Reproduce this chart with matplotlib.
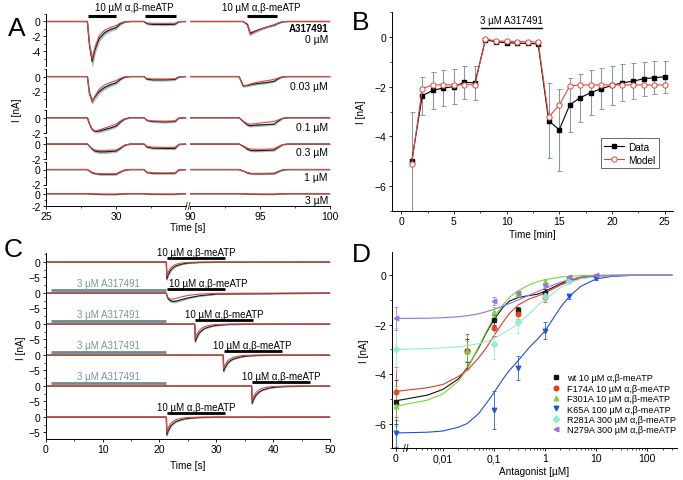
import numpy as np
import matplotlib
matplotlib.use('Agg')
import matplotlib.pyplot as plt
from matplotlib.lines import Line2D

plt.rcParams['font.family'] = ['Liberation Sans', 'DejaVu Sans']
plt.rcParams['axes.linewidth'] = 0.7
plt.rcParams['xtick.major.width'] = 0.6
plt.rcParams['ytick.major.width'] = 0.6
plt.rcParams['xtick.minor.width'] = 0.5
plt.rcParams['ytick.minor.width'] = 0.5
plt.rcParams['xtick.major.size'] = 2.5
plt.rcParams['ytick.major.size'] = 2.5
plt.rcParams['xtick.minor.size'] = 1.5
plt.rcParams['ytick.minor.size'] = 1.5
plt.rcParams['xtick.major.pad'] = 1.2
plt.rcParams['ytick.major.pad'] = 1.5
plt.rcParams['xtick.labelsize'] = 7.5
plt.rcParams['ytick.labelsize'] = 7.5

RED = '#e4473b'
BAND = '#9fc3c3'
GREYBAR = '#6f8b8b'
LABFS = 7.2
ANNFS = 7

# ---------------- data ----------------
# A: current traces (mean, SEM, model), left segment (25-35 s) and right segment (90-100 s)
a_conc = ['0 µM', '0.03 µM', '0.1 µM', '0.3 µM', '1 µM', '3 µM']
a_t_left = [25, 27.95, 28.1, 28.3, 28.5, 28.8, 29.2, 29.6, 30.0, 30.3, 30.6, 31.0,
            32.0, 32.2, 32.6, 33.5, 34.2, 34.5, 35]
a_data_left = [
    [0, 0, -3.2, -5.4, -3.8, -2.3, -1.5, -1.1, -0.85, -0.35, -0.08, 0, 0, -0.3, -0.4, -0.42, -0.38, -0.03, 0],
    [0, 0, -2.2, -3.3, -2.7, -2.0, -1.45, -1.1, -0.85, -0.4, -0.1, 0, 0, -0.35, -0.45, -0.45, -0.4, -0.05, 0],
    [0, 0, -0.8, -1.55, -1.8, -1.75, -1.55, -1.35, -1.1, -0.6, -0.2, 0, 0, -0.35, -0.5, -0.55, -0.5, -0.05, 0],
    [0, 0, -0.3, -0.7, -0.95, -1.05, -1.05, -1.0, -0.95, -0.6, -0.2, 0, 0, -0.4, -0.55, -0.6, -0.6, -0.05, 0],
    [0, 0, -0.2, -0.45, -0.55, -0.62, -0.65, -0.65, -0.63, -0.35, -0.1, 0, 0, -0.4, -0.5, -0.52, -0.5, -0.05, 0],
    [0, 0, -0.03, -0.06, -0.08, -0.1, -0.12, -0.12, -0.12, -0.06, -0.02, 0, 0, -0.06, -0.09, -0.1, -0.1, -0.02, 0],
]
a_sem_left = [
    [0, 0, 0.3, 0.6, 0.4, 0.3, 0.25, 0.2, 0.18, 0.1, 0.05, 0, 0, 0.08, 0.1, 0.1, 0.1, 0.02, 0],
    [0, 0, 0.2, 0.3, 0.3, 0.25, 0.2, 0.18, 0.15, 0.08, 0.03, 0, 0, 0.08, 0.1, 0.1, 0.1, 0.02, 0],
    [0, 0, 0.08, 0.12, 0.15, 0.15, 0.15, 0.14, 0.12, 0.08, 0.03, 0, 0, 0.08, 0.1, 0.1, 0.1, 0.02, 0],
    [0, 0, 0.05, 0.1, 0.15, 0.15, 0.15, 0.14, 0.12, 0.08, 0.03, 0, 0, 0.08, 0.1, 0.1, 0.1, 0.02, 0],
    [0, 0, 0.03, 0.06, 0.07, 0.08, 0.08, 0.08, 0.08, 0.05, 0.02, 0, 0, 0.06, 0.07, 0.07, 0.07, 0.01, 0],
    [0, 0, 0.01, 0.02, 0.02, 0.03, 0.03, 0.03, 0.03, 0.02, 0.01, 0, 0, 0.02, 0.02, 0.02, 0.02, 0.01, 0],
]
a_model_left = [
    [0, 0, -3.0, -5.0, -3.4, -1.9, -1.15, -0.8, -0.55, -0.22, -0.04, 0, 0, -0.2, -0.25, -0.27, -0.25, -0.02, 0],
    [0, 0, -2.3, -3.45, -2.6, -1.7, -1.1, -0.8, -0.55, -0.25, -0.05, 0, 0, -0.25, -0.32, -0.33, -0.3, -0.03, 0],
    [0, 0, -0.8, -1.5, -1.75, -1.6, -1.35, -1.1, -0.85, -0.45, -0.15, 0, 0, -0.3, -0.42, -0.45, -0.42, -0.04, 0],
    [0, 0, -0.3, -0.6, -0.8, -0.85, -0.85, -0.82, -0.8, -0.5, -0.15, 0, 0, -0.3, -0.42, -0.45, -0.45, -0.04, 0],
    [0, 0, -0.15, -0.38, -0.5, -0.55, -0.58, -0.58, -0.57, -0.3, -0.08, 0, 0, -0.35, -0.45, -0.47, -0.45, -0.04, 0],
    [0, 0, -0.02, -0.04, -0.05, -0.06, -0.07, -0.07, -0.07, -0.04, -0.01, 0, 0, -0.04, -0.06, -0.07, -0.07, -0.01, 0],
]
a_t_right = [90, 93.5, 93.8, 94.1, 94.3, 94.6, 95.0, 95.5, 96.0, 96.3, 96.6, 97, 100]
a_data_right = [
    [0, 0, 0, -0.4, -1.6, -1.35, -1.05, -0.75, -0.5, -0.25, -0.05, 0, 0],
    [0, 0, -1.25, -1.2, -1.1, -1.0, -0.9, -0.8, -0.65, -0.3, -0.05, 0, 0],
    [0, 0, -0.5, -0.95, -1.05, -1.0, -0.95, -0.9, -0.85, -0.45, -0.1, 0, 0],
    [0, 0, -0.3, -0.7, -0.85, -0.9, -0.88, -0.85, -0.8, -0.45, -0.1, 0, 0],
    [0, 0, -0.2, -0.45, -0.55, -0.58, -0.58, -0.57, -0.55, -0.3, -0.08, 0, 0],
    [0, 0, -0.02, -0.05, -0.07, -0.08, -0.1, -0.1, -0.1, -0.05, -0.02, 0, 0],
]
a_sem_right = [
    [0, 0, 0, 0.1, 0.2, 0.15, 0.12, 0.1, 0.08, 0.05, 0.02, 0, 0],
    [0, 0, 0.12, 0.12, 0.12, 0.12, 0.1, 0.1, 0.08, 0.05, 0.02, 0, 0],
    [0, 0, 0.06, 0.1, 0.12, 0.12, 0.12, 0.1, 0.1, 0.06, 0.02, 0, 0],
    [0, 0, 0.04, 0.08, 0.1, 0.1, 0.1, 0.1, 0.1, 0.06, 0.02, 0, 0],
    [0, 0, 0.03, 0.05, 0.06, 0.06, 0.06, 0.06, 0.06, 0.04, 0.01, 0, 0],
    [0, 0, 0.01, 0.02, 0.02, 0.02, 0.02, 0.02, 0.02, 0.01, 0.01, 0, 0],
]
a_model_right = [
    [0, 0, 0, -0.5, -1.8, -1.45, -1.1, -0.75, -0.45, -0.2, -0.03, 0, 0],
    [0, 0, -1.3, -1.15, -1.0, -0.85, -0.7, -0.55, -0.4, -0.2, -0.03, 0, 0],
    [0, 0, -0.45, -0.8, -0.85, -0.8, -0.7, -0.6, -0.5, -0.3, -0.08, 0, 0],
    [0, 0, -0.25, -0.55, -0.65, -0.7, -0.7, -0.68, -0.65, -0.35, -0.08, 0, 0],
    [0, 0, -0.2, -0.4, -0.5, -0.52, -0.52, -0.5, -0.48, -0.25, -0.05, 0, 0],
    [0, 0, -0.01, -0.03, -0.05, -0.06, -0.07, -0.07, -0.07, -0.04, -0.01, 0, 0],
]
a_agonist = [(28.0, 30.0), (32.1, 34.3), (94.1, 96.2)]

# B: time course
b_time = list(range(1, 26))
b_data = [-5.0, -2.36, -2.15, -2.05, -2.0, -1.82, -1.85, -0.1, -0.2, -0.22, -0.25, -0.25, -0.28,
          -3.37, -3.74, -2.73, -2.44, -2.24, -2.08, -1.95, -1.84, -1.78, -1.68, -1.64, -1.6]
b_err = [2.0, 0.77, 0.75, 0.72, 0.7, 0.67, 0.67, 0.05, 0.08, 0.08, 0.08, 0.08, 0.08,
         1.5, 1.65, 1.08, 0.97, 0.9, 0.82, 0.8, 0.75, 0.72, 0.68, 0.66, 0.65]
b_model = [-5.1, -2.08, -1.93, -1.92, -1.93, -1.92, -1.92, -0.08, -0.15, -0.17, -0.18, -0.19, -0.2,
           -3.22, -2.75, -1.97, -1.93, -1.93, -1.93, -1.93, -1.93, -1.93, -1.93, -1.93, -1.93]
b_antag = (7.6, 13.4)

# C: traces aligned on agonist onset
c_rel_t = [0, 0.1, 0.3, 0.8, 1.3, 1.8, 2.8, 3.8, 5.8, 8.8]
c_onset = [21.2, 21.2, 26.2, 31.2, 36.2, 21.2]
c_data = [
    [0, -5.5, -4.3, -2.6, -1.7, -1.2, -0.65, -0.35, -0.12, -0.03],
    [0, -0.8, -1.8, -2.6, -2.75, -2.6, -2.1, -1.6, -0.9, -0.35],
    [0, -5.6, -4.6, -2.9, -2.0, -1.4, -0.8, -0.45, -0.15, -0.04],
    [0, -5.2, -4.2, -2.6, -1.8, -1.3, -0.75, -0.4, -0.13, -0.03],
    [0, -5.6, -4.5, -2.9, -2.0, -1.4, -0.8, -0.45, -0.15, -0.04],
    [0, -5.8, -4.6, -2.9, -2.0, -1.4, -0.8, -0.45, -0.15, -0.04],
]
c_sem = [
    [0, 0.3, 0.3, 0.2, 0.15, 0.12, 0.08, 0.05, 0.03, 0.01],
    [0, 0.1, 0.25, 0.35, 0.35, 0.32, 0.25, 0.2, 0.12, 0.05],
    [0, 0.3, 0.25, 0.18, 0.12, 0.1, 0.07, 0.04, 0.02, 0.01],
    [0, 0.3, 0.25, 0.18, 0.12, 0.1, 0.07, 0.04, 0.02, 0.01],
    [0, 0.3, 0.25, 0.18, 0.12, 0.1, 0.07, 0.04, 0.02, 0.01],
    [0, 0.3, 0.25, 0.18, 0.12, 0.1, 0.07, 0.04, 0.02, 0.01],
]
c_model = [
    [0, -4.6, -3.3, -1.9, -1.1, -0.7, -0.3, -0.15, -0.04, 0],
    [0, -0.7, -1.5, -2.0, -1.9, -1.7, -1.2, -0.8, -0.35, -0.1],
    [0, -4.8, -3.6, -2.1, -1.3, -0.8, -0.35, -0.15, -0.04, 0],
    [0, -4.5, -3.3, -1.9, -1.2, -0.75, -0.3, -0.13, -0.03, 0],
    [0, -4.8, -3.6, -2.1, -1.3, -0.8, -0.35, -0.15, -0.04, 0],
    [0, -5.0, -3.7, -2.1, -1.3, -0.8, -0.35, -0.15, -0.04, 0],
]
c_agonist = [(21.3, 31.5), (21.3, 31.5), (26.3, 36.5), (31.3, 41.5), (36.3, 46.5), (21.3, 31.5)]
c_agonist_text_x = [26.4, 28.5, 31.4, 36.4, 41.4, 26.4]
c_antag = [None, (1.0, 21.1), (1.0, 21.1), (1.0, 21.1), (1.0, 21.1), None]

# D: concentration-response (0 = no antagonist)
d_names = ['wt 10 µM α,β-meATP', 'F174A 10 µM α,β-meATP', 'F301A 10 µM α,β-meATP',
           'K65A 100 µM α,β-meATP', 'R281A 300 µM α,β-meATP', 'N279A 300 µM α,β-meATP']
d_colors = ['#111111', '#e8391f', '#78d63a', '#1f4fd8', '#8eefcf', '#9a6fe4']
d_markers = ['s', 'o', '^', 'v', 'D', '<']
d_conc = [[0, 0.03, 0.1, 0.3, 1, 3],
          [0, 0.03, 0.1, 0.3, 1, 3],
          [0, 0.03, 0.1, 0.3, 1, 3],
          [0, 0.1, 0.3, 1, 3, 10],
          [0, 0.1, 0.3, 1, 3],
          [0, 0.1, 0.3, 1, 3, 10]]
d_I = [[-5.12, -3.05, -1.8, -1.42, -0.7, -0.15],
       [-4.72, -3.08, -2.12, -1.58, -0.9, -0.18],
       [-5.3, -3.05, -1.48, -0.75, -0.27, -0.07],
       [-6.4, -5.45, -3.75, -2.25, -0.85, -0.13],
       [-3.0, -2.8, -1.88, -0.85, -0.25],
       [-1.75, -1.05, -0.72, -0.38, -0.08, 0.0]]
d_err = [[0.9, 0.45, 0.2, 0.15, 0.15, 0.08],
         [1.0, 0.72, 0.35, 0.2, 0.2, 0.08],
         [0.8, 0.4, 0.2, 0.1, 0.08, 0.05],
         [0.55, 0.75, 0.5, 0.35, 0.1, 0.06],
         [0.85, 0.6, 0.45, 0.2, 0.08],
         [0.45, 0.15, 0.1, 0.08, 0.05, 0.03]]
d_fit_x = [0, 0.005, 0.01, 0.02, 0.03, 0.05, 0.07, 0.1, 0.15, 0.2, 0.3, 0.5, 0.7, 1, 2, 3, 5, 10,
           20, 50, 100, 300]
d_fit = [
    [-5.08, -4.85, -4.62, -4.2, -3.75, -2.95, -2.35, -1.8, -1.3, -1.05, -0.9, -0.82, -0.77, -0.65,
     -0.35, -0.2, -0.08, -0.02, -0.01, 0, 0, 0],
    [-4.7, -4.55, -4.42, -4.1, -3.85, -3.35, -2.95, -2.45, -1.9, -1.55, -1.2, -0.95, -0.85, -0.72,
     -0.4, -0.25, -0.12, -0.06, -0.02, 0, 0, 0],
    [-5.3, -5.05, -4.8, -4.3, -3.8, -2.9, -2.3, -1.7, -1.2, -0.9, -0.62, -0.38, -0.27, -0.18,
     -0.08, -0.04, -0.02, 0, 0, 0, 0, 0],
    [-6.38, -6.35, -6.3, -6.15, -6.0, -5.6, -5.2, -4.75, -4.2, -3.85, -3.45, -2.9, -2.6, -2.25,
     -1.3, -0.85, -0.45, -0.15, -0.05, -0.01, 0, 0],
    [-3.0, -2.97, -2.94, -2.9, -2.85, -2.77, -2.68, -2.55, -2.35, -2.2, -1.95, -1.55, -1.25, -0.98,
     -0.5, -0.32, -0.15, -0.06, -0.02, 0, 0, 0],
    [-1.75, -1.74, -1.72, -1.68, -1.64, -1.56, -1.48, -1.38, -1.25, -1.15, -1.0, -0.8, -0.67, -0.53,
     -0.28, -0.18, -0.08, -0.03, -0.01, 0, 0, 0],
]
d_ticks = [0, 0.01, 0.1, 1, 10, 100]
d_ticklabels = ['0', '0,01', '0,1', '1', '10', '100']

# ---------------- layout helpers ----------------
W, H = 683, 481
fig = plt.figure(figsize=(W / 100, H / 100), dpi=100)


def box(x0, y0, x1, y1):
    return [x0 / W, 1 - y1 / H, (x1 - x0) / W, (y1 - y0) / H]


def clean(ax, left=True, bottom=True):
    for s in ['top', 'right']:
        ax.spines[s].set_visible(False)
    ax.spines['left'].set_visible(left)
    ax.spines['bottom'].set_visible(bottom)
    ax.tick_params(which='both', direction='out', left=left, labelleft=left,
                   bottom=bottom, labelbottom=bottom)


def ftext(x, y, s, **kw):
    fig.text(x / W, 1 - y / H, s, **kw)


def trace(ax, t, dat, sem, mod):
    dat, sem = np.array(dat), np.array(sem)
    ax.fill_between(t, dat - sem, dat + sem, color=BAND, lw=0.6, edgecolor=BAND)
    ax.plot(t, dat, color='#1a1a1a', lw=0.8)
    ax.plot(t, mod, color=RED, lw=0.8)


# ---------------- panel A ----------------
a_rows = [(15, 67), (70, 107.5), (111, 134), (137.5, 160), (163, 185.5), (188.5, 207)]
a_ylim = [(-6, 1), (-4, 1), (-2, 1), (-2, 1), (-2, 1), (-2, 1)]
a_yticks = [[0, -2, -4], [0, -2], [0, -2], [0, -2], [0, -2], [0, -2]]
for i, (top, bot) in enumerate(a_rows):
    last = i == len(a_rows) - 1
    axl = fig.add_axes(box(46, top, 186, bot))
    axr = fig.add_axes(box(190, top, 330, bot))
    trace(axl, a_t_left, a_data_left[i], a_sem_left[i], a_model_left[i])
    trace(axr, a_t_right, a_data_right[i], a_sem_right[i], a_model_right[i])
    for ax, xl in [(axl, (25, 35)), (axr, (90, 100))]:
        ax.set_xlim(*xl)
        ax.set_ylim(*a_ylim[i])
        ax.patch.set_alpha(0)
    clean(axl, left=True, bottom=last)
    clean(axr, left=False, bottom=last)
    axl.set_yticks(a_yticks[i])
    axl.set_yticks(np.arange(a_ylim[i][0] + 1, a_ylim[i][1] + 0.5, 2), minor=True)
    axl.set_yticklabels([f'{v:g}' for v in a_yticks[i]])
    if last:
        axl.set_xticks([25, 30])
        axl.set_xticks([27.5, 32.5], minor=True)
        axr.set_xticks([90, 95, 100])
        axr.set_xticks([92.5, 97.5], minor=True)
    if i == 0:
        for on, off in a_agonist:
            target = axl if on < 50 else axr
            target.plot([on, off], [0.75, 0.75], color='k', lw=2.2, clip_on=False,
                        solid_capstyle='butt')
        axl.text(31.3, 1.95, '10 µM α,β-meATP', ha='center', va='center', fontsize=ANNFS)
        axr.text(95.1, 1.95, '10 µM α,β-meATP', ha='center', va='center', fontsize=ANNFS)

ftext(328, 29, 'A317491', ha='right', va='center', fontsize=ANNFS, fontweight='bold')
for lab, yy in zip(a_conc, [40, 87, 128, 153, 178, 201]):
    ftext(328, yy, lab, ha='right', va='center', fontsize=ANNFS + 0.5)
ftext(188, 206.5, '//', ha='center', va='center', fontsize=7)
ftext(17, 110, 'I [nA]', rotation=90, ha='center', va='center', fontsize=LABFS)
ftext(188, 228, 'Time [s]', ha='center', va='center', fontsize=LABFS)
ftext(17, 29, 'A', ha='center', va='center', fontsize=19)

# ---------------- panel B ----------------
axb = fig.add_axes(box(391.7, 13.3, 673, 211.7))
clean(axb)
axb.errorbar(b_time, b_data, yerr=b_err, fmt='none', ecolor='#8a9a9a', elinewidth=0.8,
             capsize=1.8, capthick=0.7, zorder=1)
axb.plot(b_time, b_data, color='k', lw=0.8, marker='s', ms=3.2, label='Data', zorder=2)
axb.plot(b_time, b_model, color=RED, lw=0.8, marker='o', ms=3.8, mfc='white', mec=RED,
         mew=0.7, label='Model', zorder=3)
axb.set_xlim(-0.9, 25.8)
axb.set_ylim(-7, 1)
axb.set_xticks([0, 5, 10, 15, 20, 25])
axb.set_xticks([2.5, 7.5, 12.5, 17.5, 22.5], minor=True)
axb.set_yticks([0, -2, -4, -6])
axb.set_yticks([1, -1, -3, -5, -7], minor=True)
axb.plot(b_antag, [0.38, 0.38], color='k', lw=1.0, clip_on=False)
axb.text(np.mean(b_antag), 0.7, '3 µM A317491', ha='center', va='center', fontsize=ANNFS)
axb.set_xlabel('Time [min]', fontsize=LABFS, labelpad=2)
axb.set_ylabel('I [nA]', fontsize=LABFS, labelpad=6)
leg = axb.legend(loc='lower right', bbox_to_anchor=(0.95, 0.215), fontsize=LABFS,
                 frameon=True, fancybox=False, edgecolor='#222222', handlelength=2.0,
                 borderpad=0.35, labelspacing=0.3, handletextpad=0.4, borderaxespad=0)
leg.get_frame().set_linewidth(0.6)
ftext(361, 23, 'B', ha='center', va='center', fontsize=19)

# ---------------- panel C ----------------
c_top, c_h = 254, 31
for i in range(6):
    ax = fig.add_axes(box(45.7, c_top + i * c_h, 330, c_top + (i + 1) * c_h))
    ax.patch.set_alpha(0)
    last = i == 5
    clean(ax, left=True, bottom=last)
    t = [0] + [c_onset[i] + r for r in c_rel_t] + [50]
    trace(ax, t, [0] + c_data[i] + [0], [0] + c_sem[i] + [0], [0] + c_model[i] + [0])
    ax.set_xlim(0, 50)
    ax.set_ylim(-7.1, 2.9)
    ax.set_yticks([0, -5])
    ax.set_yticks([2.5, -2.5], minor=True)
    on, off = c_agonist[i]
    ax.plot([on, off], [1.2, 1.2], color='k', lw=2.0, solid_capstyle='butt', clip_on=False)
    ax.text(c_agonist_text_x[i], 1.7, '10 µM α,β-meATP', ha='center', va='bottom',
            fontsize=ANNFS, clip_on=False)
    if c_antag[i] is not None:
        a0, a1 = c_antag[i]
        ax.plot([a0, a1], [1.0, 1.0], color=GREYBAR, lw=2.0, solid_capstyle='butt')
        ax.text((a0 + a1) / 2, 1.7, '3 µM A317491', ha='center', va='bottom',
                fontsize=ANNFS, color='#7f9696')
    if last:
        ax.set_xticks([0, 10, 20, 30, 40, 50])
        ax.set_xticks([5, 15, 25, 35, 45], minor=True)
ftext(21, 348, 'I [nA]', rotation=90, ha='center', va='center', fontsize=LABFS)
ftext(188, 466, 'Time [s]', ha='center', va='center', fontsize=LABFS)
ftext(13, 250, 'C', ha='center', va='center', fontsize=19)

# ---------------- panel D ----------------
ZERO_X = 0.0012  # where the "0" concentration sits on the log axis
axd = fig.add_axes(box(391.7, 252.7, 677, 449.3))
clean(axd)
axd.set_xscale('log')
fit_x = [ZERO_X if c == 0 else c for c in d_fit_x]
for k in range(6):
    axd.plot(fit_x, d_fit[k], color=d_colors[k], lw=0.8, zorder=2)
for k in range(6):
    xs = [ZERO_X if c == 0 else c for c in d_conc[k]]
    axd.errorbar(xs, d_I[k], yerr=d_err[k], fmt=d_markers[k], color=d_colors[k],
                 ecolor=d_colors[k], elinewidth=0.6, capsize=1.5, capthick=0.6, ms=3.3,
                 alpha=0.9, zorder=3, label=d_names[k])
axd.set_xlim(0.001, 380)
axd.set_ylim(-7, 0.95)
axd.set_xticks([ZERO_X if c == 0 else c for c in d_ticks])
axd.set_xticklabels(d_ticklabels)
axd.set_yticks([0, -2, -4, -6])
axd.set_yticks([-1, -3, -5, -7], minor=True)
axd.text(0.0019, 0, '//', transform=axd.get_xaxis_transform(), ha='center', va='center',
         fontsize=7)
axd.set_xlabel('Antagonist [µM]', fontsize=LABFS, labelpad=1.5)
axd.set_ylabel('I [nA]', fontsize=LABFS, labelpad=4)
handles = [Line2D([], [], ls='none', marker=d_markers[k], color=d_colors[k], ms=3.3)
           for k in range(6)]
axd.legend(handles, d_names, loc='upper left', bbox_to_anchor=(0.555, 0.39), fontsize=6.6,
           frameon=False, handlelength=1.0, handletextpad=0.6, labelspacing=0.15,
           borderpad=0.2, borderaxespad=0)
ftext(361, 255, 'D', ha='center', va='center', fontsize=19)

fig.savefig('out.png', dpi=100)
